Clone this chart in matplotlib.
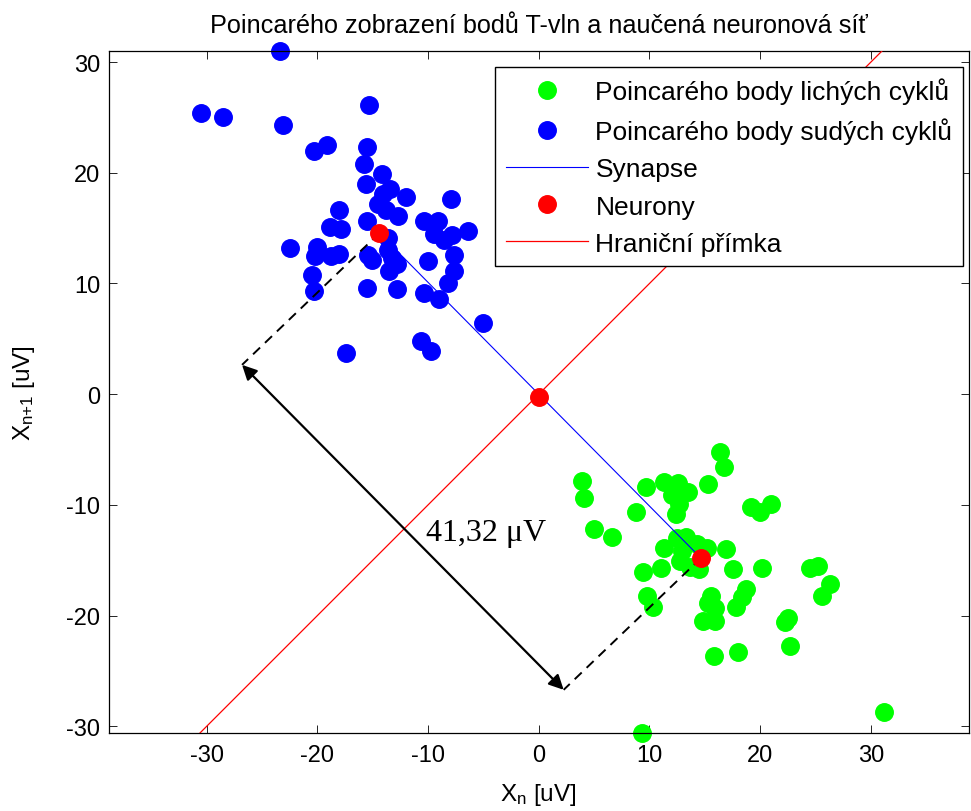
import numpy as np
import matplotlib
matplotlib.use("Agg")
import matplotlib.pyplot as plt

# Poincaré points of even cycles (X_n, X_n+1) in uV
even_x = [-23.4, -30.5, -28.5, -23.1, -15.3, -20.3, -19.1, -15.5, -15.8, -14.2,
          -15.6, -13.4, -14.1, -12.0, -7.9, -14.5, -13.8, -12.7, -18.0, -18.9,
          -17.9, -15.5, -10.4, -9.1, -9.5, -8.6, -7.8, -6.4, -13.6, -22.5,
          -20.0, -20.2, -18.8, -18.0, -15.4, -15.1, -13.6, -13.3, -12.8, -13.5,
          -10.0, -7.7, -7.7, -8.2, -20.5, -20.3, -15.5, -12.8, -10.4, -9.0,
          -5.0, -10.6, -9.7, -17.4]
even_y = [31.0, 25.4, 25.0, 24.3, 26.1, 22.0, 22.5, 22.3, 20.8, 19.9,
          19.0, 18.5, 18.1, 17.8, 17.6, 17.2, 16.6, 16.1, 16.6, 15.1,
          14.9, 15.6, 15.6, 15.6, 14.5, 13.9, 14.4, 14.7, 14.1, 13.2,
          13.3, 12.5, 12.5, 12.7, 12.6, 12.1, 13.0, 12.3, 11.8, 11.1,
          12.0, 12.6, 11.1, 10.0, 10.8, 9.3, 9.6, 9.5, 9.1, 8.6,
          6.4, 4.8, 3.9, 3.7]

# Poincaré points of odd cycles
odd_x = [16.4, 16.7, 3.9, 4.1, 9.7, 11.3, 12.6, 13.5, 12.0, 12.7,
         12.4, 15.3, 8.8, 19.2, 20.0, 21.0, 5.0, 6.6, 11.3, 12.5,
         13.3, 12.9, 14.3, 15.2, 16.9, 12.8, 13.7, 14.5, 9.4, 11.0,
         17.5, 20.2, 24.5, 25.2, 26.3, 25.6, 9.8, 10.3, 15.6, 15.3,
         15.9, 14.8, 15.9, 17.8, 18.4, 18.7, 22.2, 22.5, 22.7, 15.8,
         18.0, 31.2, 9.3]
odd_y = [-5.2, -6.6, -7.8, -9.4, -8.4, -7.9, -8.0, -8.8, -9.1, -9.9,
         -10.8, -8.1, -10.6, -10.2, -10.6, -9.9, -12.2, -12.9, -13.9, -13.0,
         -12.9, -14.2, -13.5, -13.9, -14.0, -15.1, -15.6, -15.8, -16.1, -15.7,
         -15.8, -15.7, -15.7, -15.5, -17.1, -18.2, -18.2, -19.2, -18.2, -18.9,
         -19.3, -20.5, -20.5, -19.2, -18.3, -17.6, -20.6, -20.2, -22.7, -23.6,
         -23.3, -28.7, -30.6]

# Trained network: two class neurons and the boundary neuron between them
neuron_x = [-14.4, 0.0, 14.65]
neuron_y = [14.55, -0.25, -14.8]
distance_label = "41,32 \u03bcV"

title = "Poincarého zobrazení bodů T-vln a naučená neuronová síť"
xticks = [-30, -20, -10, 0, 10, 20, 30]
yticks = [-30, -20, -10, 0, 10, 20, 30]

W, H = 971, 812
plt.rcParams['font.family'] = ['Liberation Sans', 'DejaVu Sans']
plt.rcParams['mathtext.fontset'] = 'custom'
plt.rcParams['mathtext.rm'] = 'Liberation Sans'
plt.rcParams['mathtext.it'] = 'Liberation Sans'
plt.rcParams['axes.unicode_minus'] = False
fig = plt.figure(figsize=(W / 100, H / 100), dpi=100)

ax_l, ax_r, ax_t, ax_b = 108.5, 969, 52, 734
ax = fig.add_axes([ax_l / W, 1 - ax_b / H, (ax_r - ax_l) / W, (ax_b - ax_t) / H])

# equal scaling on both axes, y spans the data range
ylim = (min(even_y + odd_y), max(even_y + odd_y))
half_w = (ylim[1] - ylim[0]) * (ax_r - ax_l) / (ax_b - ax_t) / 2
xlim = (-half_w, half_w)
ax.set_xlim(xlim)
ax.set_ylim(ylim)

ms = 12.6
ax.plot(odd_x, odd_y, 'o', color=(0, 1, 0), ms=ms, mec=(0, 1, 0), clip_on=False,
        zorder=2, label="Poincarého body lichých cyklů")
ax.plot(even_x, even_y, 'o', color=(0, 0, 1), ms=ms, mec=(0, 0, 1), clip_on=False,
        zorder=2, label="Poincarého body sudých cyklů")

n1 = np.array([neuron_x[0], neuron_y[0]])
n2 = np.array([neuron_x[2], neuron_y[2]])
ax.plot([n1[0], n2[0]], [n1[1], n2[1]], '-', color=(0, 0, 1), lw=0.8, zorder=3,
        label="Synapse")
ax.plot(neuron_x, neuron_y, 'o', color=(1, 0, 0), ms=ms, mec=(1, 0, 0), zorder=5,
        label="Neurony")

# decision boundary: perpendicular bisector of the two class neurons (y = x)
bx = np.array(xlim)
ax.plot(bx, bx, '-', color=(1, 0, 0), lw=0.9, zorder=3, label="Hraniční přímka")

# dimension line showing the neuron distance
offset = np.array([-12.4, -11.9])
e1, e2 = n1 + offset, n2 + offset
for n, e in ((n1, e1), (n2, e2)):
    ax.plot([n[0], e[0]], [n[1], e[1]], color='black', lw=1.4,
            dashes=(5, 3.5), zorder=4)
ax.annotate("", xy=tuple(e1), xytext=tuple(e2),
            arrowprops=dict(arrowstyle='<|-|>', color='black', lw=1.6,
                            mutation_scale=22, shrinkA=0, shrinkB=0),
            zorder=4)
ax.text(-4.8, -12.5, distance_label, family=['Liberation Serif', 'DejaVu Serif'],
        fontsize=23, ha='center', va='center', zorder=6)

ax.set_xticks(xticks)
ax.set_yticks(yticks)
ax.tick_params(direction='in', length=5.5, width=0.6, labelsize=17,
               top=True, right=True, pad=8)
ax.tick_params(axis='y', pad=6)
for s in ax.spines.values():
    s.set_linewidth(0.9)

ax.set_title(title, fontsize=18.2, pad=14)
ax.set_xlabel(r"X$_\mathregular{n}$ [uV]", fontsize=17.5, labelpad=11)
ax.set_ylabel(r"X$_\mathregular{n{+}1}$ [uV]", fontsize=17.5, labelpad=21)

leg = ax.legend(loc='upper right', bbox_to_anchor=(963 / W, 1 - 68 / H),
                bbox_transform=fig.transFigure, borderaxespad=0, fontsize=19,
                fancybox=False, framealpha=1, edgecolor='black',
                handlelength=3.1, handletextpad=0.3, labelspacing=0.5,
                borderpad=0.4, numpoints=1)
leg.get_frame().set_linewidth(1.0)
leg.set_zorder(10)

fig.savefig("out.png", dpi=100)
